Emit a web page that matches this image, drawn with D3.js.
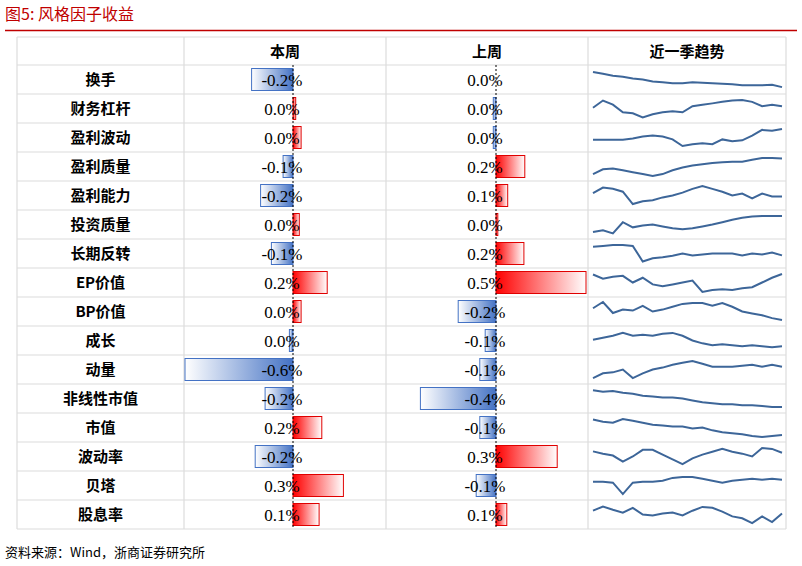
<!DOCTYPE html><html><head><meta charset="utf-8"><script src="https://cdn.jsdelivr.net/npm/d3@7"></script>
<style>body{margin:0;background:#fff}</style></head><body><svg id="c" width="802" height="566"></svg>
<script>
const factors=["换手","财务杠杆","盈利波动","盈利质量","盈利能力","投资质量","长期反转","EP价值","BP价值","成长","动量","非线性市值","市值","波动率","贝塔","股息率"];
const thisWeek=[-0.23,0.015,0.045,-0.055,-0.18,0.035,-0.12,0.19,0.045,-0.02,-0.6,-0.155,0.16,-0.21,0.28,0.145];
const lastWeek=[0,-0.015,-0.015,0.16,0.065,0.01,0.155,0.5,-0.21,-0.06,-0.09,-0.42,-0.09,0.34,-0.11,0.06];
const headers=["本周","上周","近一季趋势"];
const trends=[
[1,2,3,3.5,4.5,5,6,6.5,7,7,6.5,6.7,7,7.2,7.5,8,8,8,7.8,9],
[4.6,0.8,3,7,7.5,9.7,8,7,6.5,7,3.8,3,2.3,1.5,0.8,0.5,1.5,3.8,3,3.8],
[6.2,6.2,6.2,6.2,5.5,4.5,4,4.5,6,9.5,8.5,8,8.5,6,7,6.5,4,1,1.5,0.5],
[9,6.5,6,7,8,9,10,9,7,5.5,4.5,3.8,3.2,2.8,2.5,2.5,1.5,0.5,0.5,0.8],
[3.8,0.8,1.5,3,9.5,8,7.5,6,5,3.5,1.5,0,1.5,3,5,4,6.5,4,5.5,5.5],
[9,8,9.7,3.8,6.5,5.5,5,6,7,7.5,7,6,5,3.8,2.5,1.5,0.8,0.5,0.5,0.5],
[1.5,1,0.5,0.5,1,9.2,7.5,7,6.2,5,6,5.5,5,5,5,6,5,5.5,4.5,6],
[0.8,3,2,1.5,5,2.5,6,7,6,5,4,10,9,8.5,9,8,7.5,5,2.5,0.5],
[3.3,0,5.8,4,4.5,2,5,4,2.5,1,0.5,0.5,2,0.5,2.5,5,6,7,8.5,9.5],
[4.6,3.5,2.5,1,2.5,2,2.5,1.5,1,2.5,5,6.5,7.5,7,7.5,8,7.5,8,8.5,8],
[9.5,7,6.5,5,9.5,7,5,4,2.5,1.5,0.5,2,3.5,3.5,3.5,3,2.5,3.5,2.5,3.5],
[0.7,1.5,1,2,2.5,3.5,4,4.5,4.5,5,6,7,7.5,8,8,8.5,8.5,9,9.5,9.5],
[0.8,2,2.5,0.5,1.5,2.5,3.5,4,4.5,4.5,5.5,5,6.5,7.5,8,8.5,9.5,10,9.5,9],
[2.3,3.5,4.5,7.7,5,1.5,1.5,4,6.5,9,6,4,2.5,1,2.5,3.5,5,0.5,1,3],
[3,3,3.5,9.5,3.5,3,3,2.5,1,0.5,0.5,1.5,2.5,3.5,2.5,2,1.5,2,1.5,2],
[3,0.8,2.5,4,1.5,5,5.5,4.5,4,5.5,3,1,1.5,3.5,6,7,9.5,6,9,4.5]];

const svg=d3.select("#c");
const defs=svg.append("defs");
const gb=defs.append("linearGradient").attr("id","gb");
gb.append("stop").attr("offset","0").attr("stop-color","#ffffff");
gb.append("stop").attr("offset","1").attr("stop-color","#4472c4");
const gr=defs.append("linearGradient").attr("id","gr");
gr.append("stop").attr("offset","0").attr("stop-color","#ff0000");
gr.append("stop").attr("offset","1").attr("stop-color","#ffffff");

svg.append("text").attr("x",5).attr("y",20).attr("fill","#c00000").attr("font-size",16).attr("font-family","Noto Sans CJK SC").text("图5:   风格因子收益");
svg.append("line").attr("x1",5).attr("x2",797).attr("y1",30.5).attr("y2",30.5).attr("stroke","#c00000").attr("stroke-width",1.5);
svg.append("text").attr("x",5).attr("y",557).attr("font-size",13).attr("font-family","Noto Sans CJK SC").text("资料来源：Wind，浙商证券研究所");

const cols=[17,184,386,588,786];
const topY=37,hdrB=65,bottomY=529;
const y=d3.scaleBand().domain(factors).range([hdrB,bottomY]);
const grid=svg.append("g").attr("stroke","#dcdcdc").attr("stroke-width",1.2);
cols.forEach(c=>grid.append("line").attr("x1",c).attr("x2",c).attr("y1",topY).attr("y2",bottomY));
[topY,hdrB,...factors.map(f=>y(f)+y.bandwidth())].forEach(v=>grid.append("line").attr("x1",cols[0]).attr("x2",cols[4]).attr("y1",v).attr("y2",v));

headers.forEach((h,i)=>svg.append("text").attr("x",(cols[i+1]+cols[i+2])/2).attr("y",57).attr("text-anchor","middle").attr("font-size",15).attr("font-weight","bold").attr("font-family","Noto Sans CJK SC").text(h));
svg.selectAll(".lab").data(factors).join("text").attr("x",(cols[0]+cols[1])/2).attr("y",f=>y(f)+y.bandwidth()/2+5.5).attr("text-anchor","middle").attr("font-size",15).attr("font-weight","bold").attr("font-family","Noto Sans CJK SC").text(f=>f);

const x1=d3.scaleLinear().domain([-0.6,0.5]).range([185,383]);
const x2=d3.scaleLinear().domain([-0.6,0.5]).range([388,586]);
function barCol(vals,x){
  const g=svg.append("g");
  g.selectAll("rect").data(vals).join("rect")
   .attr("x",d=>Math.min(x(0),x(d))).attr("width",d=>Math.abs(x(d)-x(0)))
   .attr("y",(d,i)=>y(factors[i])+3.5).attr("height",y.bandwidth()-7)
   .attr("fill",d=>d<0?"url(#gb)":"url(#gr)").attr("stroke",d=>d<0?"#4472c4":"#e00000").attr("stroke-width",1);
  g.append("line").attr("x1",x(0)).attr("x2",x(0)).attr("y1",hdrB).attr("y2",bottomY).attr("stroke","#000").attr("stroke-dasharray","2,2");
  const cx=(x.range()[0]+x.range()[1])/2-2;
  g.selectAll("text").data(vals).join("text").attr("x",cx).attr("y",(d,i)=>y(factors[i])+y.bandwidth()/2+6)
   .attr("text-anchor","middle").attr("font-size",17).attr("font-family","Liberation Serif")
   .text(d=>{let s=d.toFixed(1);if(s==="-0.0")s="0.0";return s+"%";});
}
barCol(thisWeek,x1);barCol(lastWeek,x2);

const xs=d3.scaleLinear().domain([0,19]).range([593,782]);
trends.forEach((t,i)=>{
  const ys=d3.scaleLinear().domain([0,10]).range([y(factors[i])+5,y(factors[i])+y.bandwidth()-5]);
  svg.append("path").attr("d",d3.line().x((d,j)=>xs(j)).y(d=>ys(d))(t)).attr("fill","none").attr("stroke","#3d6699").attr("stroke-width",2);
});
</script></body></html>
